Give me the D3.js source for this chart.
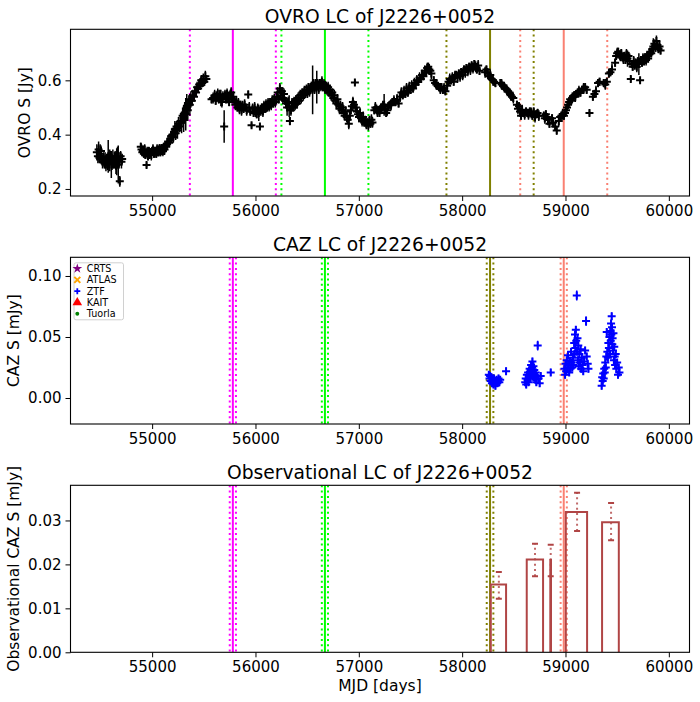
<!DOCTYPE html>
<html>
<head>
<meta charset="utf-8">
<script src="https://cdn.jsdelivr.net/npm/d3@7"></script>
<style>
  body { margin: 0; background: #fff; }
  text { font-family: "DejaVu Sans", sans-serif; fill: #000; }
</style>
</head>
<body>
<svg id="canvas"></svg>
<script>
// ---- data ----
let eventMjd = [55781, 56672, 58270, 58983];
let eventUncOvro = [416, 421, 422, 421];
let eventUncCaz = [30, 30, 32, 30];

let xTicks = [55000, 56000, 57000, 58000, 59000, 60000];
let ovroTicks = [0.2, 0.4, 0.6];
let cazTicks = [0.00, 0.05, 0.10];
let obsTicks = [0.00, 0.01, 0.02, 0.03];

// OVRO 15 GHz: [mjd, flux Jy, error]
let ovroData = [
  [54465,0.335,0.03],[54475,0.320,0.025],[54482,0.345,0.03],[54490,0.315,0.02],[54497,0.330,0.035],[54505,0.340,0.02],
  [54512,0.310,0.02],[54520,0.300,0.025],[54530,0.315,0.02],[54538,0.295,0.02],[54545,0.305,0.03],[54553,0.290,0.025],
  [54560,0.310,0.02],[54568,0.300,0.03],[54575,0.320,0.06],[54583,0.295,0.02],[54590,0.305,0.04],[54598,0.315,0.025],
  [54605,0.290,0.05],[54612,0.300,0.03],[54620,0.310,0.035],[54628,0.295,0.02],[54635,0.305,0.03],[54642,0.320,0.02],
  [54650,0.285,0.03],[54657,0.300,0.05],[54665,0.315,0.04],[54672,0.290,0.07],[54680,0.305,0.03],[54687,0.228,0.02],
  [54695,0.320,0.02],[54703,0.300,0.025],[54710,0.310,0.02],
  [54890,0.355,0.015],[54897,0.345,0.02],[54905,0.335,0.015],[54912,0.340,0.02],[54920,0.330,0.015],[54928,0.345,0.02],
  [54935,0.325,0.015],[54946,0.288,0.01],[54952,0.335,0.02],[54960,0.320,0.015],[54968,0.340,0.015],[54976,0.330,0.02],
  [54984,0.335,0.015],[54992,0.325,0.02],[55000,0.340,0.015],[55008,0.345,0.02],[55016,0.330,0.015],[55024,0.335,0.02],
  [55032,0.340,0.015],[55040,0.330,0.015],[55048,0.345,0.02],[55056,0.335,0.015],[55064,0.340,0.02],[55072,0.350,0.015],
  [55080,0.335,0.015],[55088,0.345,0.02],[55096,0.350,0.015],[55104,0.340,0.02],[55112,0.355,0.015],[55120,0.345,0.02],
  [55128,0.360,0.015],[55136,0.355,0.02],
  [55145,0.365,0.02],[55155,0.375,0.02],[55165,0.370,0.015],[55175,0.385,0.02],[55185,0.395,0.02],[55195,0.400,0.025],
  [55205,0.390,0.02],[55212,0.410,0.02],[55220,0.420,0.03],[55228,0.405,0.025],[55236,0.430,0.02],[55245,0.415,0.03],
  [55255,0.440,0.025],[55265,0.430,0.02],[55275,0.450,0.03],[55285,0.445,0.04],[55295,0.470,0.03],[55305,0.460,0.05],
  [55315,0.480,0.04],[55325,0.475,0.06],[55335,0.500,0.05],[55345,0.490,0.04],[55355,0.515,0.03],[55365,0.510,0.04],
  [55375,0.530,0.03],[55385,0.525,0.02],[55395,0.545,0.02],[55405,0.540,0.02],[55415,0.560,0.02],[55425,0.555,0.015],
  [55435,0.575,0.02],[55445,0.570,0.015],[55455,0.585,0.02],[55465,0.580,0.015],[55475,0.600,0.02],[55485,0.590,0.015],
  [55495,0.605,0.02],[55505,0.595,0.015],[55515,0.615,0.02],[55525,0.605,0.015],
  [55575,0.530,0.015],[55590,0.535,0.02],[55605,0.545,0.02],[55615,0.525,0.015],[55625,0.540,0.02],[55635,0.550,0.02],
  [55645,0.530,0.015],[55655,0.545,0.02],[55665,0.535,0.03],[55675,0.520,0.02],[55685,0.540,0.02],[55697,0.430,0.06],
  [55705,0.545,0.02],[55715,0.530,0.015],[55725,0.550,0.02],[55735,0.535,0.02],[55745,0.520,0.015],[55755,0.545,0.02],
  [55765,0.555,0.02],[55775,0.530,0.015],[55785,0.540,0.02],[55795,0.525,0.015],[55805,0.510,0.02],[55815,0.520,0.02],
  [55825,0.500,0.015],[55835,0.515,0.02],[55845,0.495,0.02],[55855,0.510,0.015],[55865,0.490,0.02],[55875,0.505,0.02],
  [55885,0.495,0.015],[55895,0.510,0.02],[55905,0.500,0.015],[55915,0.490,0.02],[55930,0.548,0.015],[55940,0.500,0.02],
  [55950,0.485,0.015],[55962,0.435,0.01],[55972,0.495,0.02],[55982,0.480,0.015],[55992,0.500,0.02],[56002,0.485,0.02],
  [56012,0.475,0.015],[56022,0.495,0.02],[56032,0.480,0.03],[56043,0.430,0.01],[56052,0.490,0.02],[56062,0.500,0.015],
  [56072,0.485,0.02],[56082,0.505,0.02],[56092,0.495,0.015],[56102,0.510,0.02],[56112,0.500,0.015],[56122,0.515,0.02],
  [56132,0.505,0.02],[56142,0.520,0.015],[56152,0.510,0.02],[56162,0.525,0.02],[56172,0.515,0.015],[56182,0.530,0.02],
  [56192,0.520,0.02],
  [56205,0.540,0.02],[56215,0.555,0.02],[56225,0.530,0.015],[56236,0.570,0.02],[56246,0.545,0.02],[56256,0.560,0.015],
  [56266,0.535,0.02],[56276,0.550,0.02],[56286,0.525,0.015],[56296,0.515,0.02],[56306,0.500,0.03],[56316,0.520,0.02],
  [56326,0.505,0.04],[56333,0.450,0.015],[56343,0.490,0.02],[56353,0.515,0.02],[56363,0.500,0.015],[56373,0.520,0.02],
  [56383,0.510,0.02],[56393,0.530,0.015],[56403,0.515,0.02],[56413,0.535,0.02],[56423,0.525,0.015],[56433,0.545,0.02],
  [56443,0.535,0.02],[56453,0.555,0.015],[56463,0.545,0.02],[56473,0.560,0.02],[56483,0.550,0.015],[56493,0.565,0.02],
  [56503,0.555,0.02],[56513,0.575,0.015],[56523,0.560,0.02],[56533,0.570,0.02],[56543,0.580,0.015],[56553,0.565,0.09],
  [56563,0.585,0.02],[56573,0.570,0.02],[56583,0.590,0.015],[56593,0.575,0.06],[56603,0.585,0.02],[56613,0.570,0.02],
  [56623,0.590,0.015],[56633,0.580,0.02],[56643,0.595,0.02],[56653,0.575,0.015],[56663,0.585,0.02],[56673,0.570,0.02],
  [56683,0.580,0.015],[56693,0.565,0.02],[56703,0.575,0.02],[56713,0.555,0.015],[56723,0.565,0.02],[56733,0.545,0.02],
  [56743,0.555,0.015],[56753,0.535,0.02],[56763,0.545,0.02],[56773,0.525,0.015],[56783,0.515,0.02],[56793,0.530,0.02],
  [56803,0.510,0.015],[56813,0.495,0.02],[56823,0.505,0.02],[56833,0.490,0.015],[56843,0.500,0.02],[56853,0.480,0.02],
  [56863,0.470,0.015],[56873,0.485,0.02],[56883,0.465,0.02],[56893,0.455,0.015],[56903,0.440,0.02],[56913,0.470,0.02],
  [56923,0.490,0.015],[56933,0.505,0.02],[56943,0.520,0.02],[56953,0.510,0.015],[56962,0.592,0.01],[56972,0.500,0.02],
  [56982,0.485,0.02],[56992,0.475,0.015],[57002,0.465,0.02],[57012,0.480,0.02],[57022,0.460,0.015],[57032,0.450,0.02],
  [57042,0.465,0.02],[57052,0.445,0.015],[57062,0.450,0.02],[57072,0.440,0.02],[57082,0.445,0.015],[57092,0.435,0.02],
  [57102,0.450,0.02],[57112,0.440,0.015],[57122,0.455,0.02],[57132,0.445,0.02],[57150,0.490,0.015],[57160,0.500,0.02],
  [57170,0.495,0.015],[57180,0.485,0.02],[57190,0.490,0.015],[57200,0.480,0.015],[57212,0.495,0.02],[57222,0.500,0.015],
  [57232,0.505,0.02],[57245,0.510,0.04],[57255,0.495,0.02],[57265,0.480,0.015],[57275,0.490,0.02],[57285,0.505,0.015],
  [57300,0.510,0.015],
  [57312,0.510,0.02],[57325,0.520,0.015],[57340,0.525,0.02],[57355,0.520,0.015],[57370,0.530,0.02],[57385,0.515,0.015],
  [57400,0.540,0.02],[57412,0.555,0.02],[57425,0.545,0.015],[57438,0.560,0.02],[57450,0.550,0.015],[57462,0.570,0.02],
  [57475,0.555,0.015],[57488,0.575,0.02],[57500,0.565,0.015],[57512,0.580,0.02],[57525,0.570,0.015],[57538,0.590,0.02],
  [57550,0.585,0.015],[57562,0.600,0.02],[57575,0.595,0.015],[57588,0.610,0.02],[57600,0.605,0.015],[57612,0.620,0.02],
  [57625,0.615,0.015],[57638,0.635,0.02],[57650,0.630,0.015],[57662,0.645,0.02],[57672,0.650,0.015],[57682,0.640,0.02],
  [57692,0.635,0.015],[57702,0.625,0.02],[57725,0.600,0.015],[57738,0.590,0.015],[57750,0.585,0.02],[57762,0.580,0.015],
  [57775,0.575,0.015],[57788,0.570,0.02],[57800,0.575,0.015],[57812,0.565,0.015],[57825,0.570,0.02],[57838,0.560,0.015],
  [57855,0.580,0.02],[57868,0.595,0.015],[57880,0.605,0.02],[57892,0.600,0.015],[57905,0.610,0.02],[57918,0.595,0.015],
  [57930,0.615,0.02],[57942,0.620,0.015],[57955,0.610,0.02],[57968,0.625,0.015],[57980,0.615,0.02],[57992,0.630,0.015],
  [58005,0.620,0.02],[58018,0.640,0.015],[58030,0.630,0.02],[58042,0.645,0.015],[58055,0.635,0.02],[58068,0.650,0.015],
  [58080,0.640,0.02],[58092,0.655,0.015],[58105,0.645,0.02],[58118,0.660,0.015],[58130,0.650,0.02],[58142,0.640,0.015],
  [58155,0.655,0.02],[58168,0.635,0.015],[58222,0.630,0.02],[58235,0.640,0.015],[58248,0.625,0.02],[58260,0.615,0.015],
  [58272,0.620,0.02],[58285,0.605,0.015],[58298,0.600,0.02],[58310,0.595,0.015],[58322,0.590,0.015],
  [58370,0.590,0.015],[58382,0.585,0.02],[58395,0.580,0.015],[58408,0.575,0.02],[58420,0.570,0.015],[58432,0.565,0.02],
  [58445,0.560,0.015],[58458,0.555,0.015],[58470,0.545,0.02],[58482,0.540,0.015],[58495,0.535,0.02],[58530,0.510,0.015],
  [58540,0.495,0.02],[58550,0.505,0.015],[58560,0.485,0.02],[58570,0.470,0.015],[58580,0.490,0.02],[58592,0.480,0.015],
  [58605,0.475,0.02],[58618,0.485,0.015],[58630,0.480,0.015],[58642,0.475,0.02],[58655,0.485,0.015],[58668,0.480,0.02],
  [58680,0.470,0.015],[58692,0.485,0.015],[58705,0.465,0.02],[58718,0.475,0.015],[58730,0.480,0.015],[58742,0.470,0.02],
  [58790,0.470,0.015],[58800,0.460,0.02],[58810,0.475,0.015],[58820,0.465,0.015],[58830,0.455,0.02],[58845,0.440,0.015],
  [58870,0.460,0.015],[58880,0.445,0.02],[58900,0.430,0.015],[58915,0.415,0.015],[58935,0.450,0.02],[58948,0.465,0.015],
  [58960,0.470,0.015],[58972,0.475,0.02],[58985,0.470,0.015],[58995,0.480,0.015],[59005,0.490,0.02],[59015,0.500,0.015],
  [59025,0.510,0.015],[59035,0.520,0.02],[59045,0.530,0.015],[59055,0.525,0.015],[59065,0.535,0.02],[59075,0.540,0.015],
  [59085,0.545,0.015],[59095,0.540,0.02],[59105,0.550,0.015],[59118,0.555,0.015],[59130,0.560,0.02],[59145,0.555,0.015],
  [59160,0.565,0.015],[59175,0.570,0.02],[59190,0.575,0.015],[59205,0.565,0.015],[59232,0.480,0.01],[59265,0.540,0.015],
  [59280,0.550,0.015],[59295,0.560,0.02],[59315,0.590,0.015],[59330,0.595,0.015],[59370,0.590,0.015],[59385,0.585,0.02],
  [59400,0.595,0.015],[59420,0.625,0.015],[59435,0.630,0.015],[59450,0.640,0.02],
  [59480,0.665,0.015],[59490,0.690,0.015],[59500,0.700,0.02],[59510,0.705,0.015],[59520,0.695,0.015],[59530,0.690,0.02],
  [59540,0.700,0.015],[59550,0.685,0.015],[59560,0.680,0.02],[59570,0.690,0.015],[59580,0.675,0.015],[59590,0.695,0.02],
  [59600,0.680,0.03],[59610,0.690,0.015],[59620,0.670,0.015],[59632,0.605,0.01],[59640,0.660,0.015],[59650,0.650,0.015],
  [59660,0.670,0.02],[59670,0.655,0.015],[59680,0.665,0.015],[59690,0.650,0.02],[59700,0.670,0.015],[59710,0.660,0.04],
  [59722,0.600,0.01],[59730,0.675,0.015],[59740,0.665,0.015],[59750,0.680,0.02],[59760,0.670,0.015],[59770,0.685,0.015],
  [59780,0.675,0.02],[59790,0.690,0.015],[59800,0.680,0.015],[59810,0.695,0.02],[59820,0.705,0.015],[59830,0.700,0.015],
  [59840,0.715,0.02],[59850,0.725,0.03],[59860,0.735,0.015],[59870,0.720,0.015],[59880,0.745,0.02],[59890,0.730,0.015],
  [59900,0.715,0.015],[59910,0.725,0.02],[59920,0.710,0.015]
];

// ZTF: [mjd, flux mJy, error]
let ztfData = [
  [58258,0.019,0.003],[58265,0.016,0.003],[58270,0.018,0.003],[58276,0.014,0.003],[58282,0.017,0.003],[58288,0.012,0.003],
  [58293,0.015,0.003],[58298,0.013,0.003],[58303,0.011,0.003],[58308,0.016,0.003],[58313,0.012,0.003],[58318,0.014,0.003],
  [58322,0.010,0.003],[58327,0.013,0.003],[58333,0.015,0.003],[58340,0.012,0.003],[58346,0.014,0.003],[58352,0.016,0.003],
  [58360,0.013,0.003],[58368,0.015,0.003],[58425,0.022,0.003],
  [58610,0.013,0.003],[58615,0.016,0.003],[58620,0.011,0.003],[58626,0.019,0.003],[58632,0.015,0.003],[58638,0.021,0.003],
  [58642,0.013,0.003],[58648,0.018,0.003],[58653,0.024,0.003],[58658,0.016,0.003],[58662,0.022,0.003],[58667,0.027,0.003],
  [58672,0.019,0.003],[58676,0.025,0.003],[58680,0.030,0.003],[58685,0.021,0.003],[58690,0.026,0.003],[58694,0.017,0.003],
  [58698,0.023,0.003],[58703,0.019,0.003],[58708,0.015,0.003],[58712,0.021,0.003],[58718,0.013,0.003],[58724,0.018,0.003],
  [58731,0.043,0.004],[58740,0.016,0.003],[58750,0.012,0.003],[58760,0.018,0.003],[58857,0.021,0.003],
  [58990,0.024,0.003],[58996,0.019,0.003],[59000,0.028,0.003],[59006,0.022,0.003],[59012,0.031,0.003],[59018,0.025,0.003],
  [59024,0.035,0.003],[59030,0.027,0.003],[59036,0.021,0.003],[59042,0.030,0.003],[59048,0.024,0.003],[59054,0.038,0.003],
  [59060,0.029,0.003],[59066,0.025,0.003],[59072,0.033,0.003],[59078,0.027,0.003],[59084,0.045,0.003],[59088,0.036,0.003],
  [59092,0.052,0.003],[59096,0.041,0.003],[59100,0.056,0.003],[59104,0.047,0.003],[59109,0.084,0.004],[59112,0.038,0.003],
  [59116,0.049,0.003],[59120,0.031,0.003],[59124,0.043,0.003],[59128,0.026,0.003],[59134,0.036,0.003],[59140,0.029,0.003],
  [59146,0.040,0.003],[59152,0.024,0.003],[59158,0.033,0.003],[59165,0.027,0.003],[59172,0.022,0.003],[59180,0.030,0.003],
  [59190,0.039,0.003],[59199,0.063,0.004],[59205,0.034,0.003],[59215,0.028,0.003],[59222,0.024,0.003],
  [59350,0.010,0.003],[59355,0.017,0.003],[59360,0.014,0.003],[59365,0.020,0.003],[59370,0.016,0.003],[59375,0.024,0.003],
  [59380,0.021,0.003],[59385,0.029,0.003],[59390,0.025,0.003],[59395,0.034,0.003],[59399,0.054,0.003],[59405,0.038,0.003],
  [59410,0.033,0.003],[59415,0.045,0.003],[59420,0.041,0.003],[59425,0.050,0.003],[59430,0.036,0.003],[59434,0.055,0.003],
  [59438,0.047,0.003],[59441,0.061,0.003],[59444,0.052,0.003],[59447,0.067,0.003],[59450,0.058,0.003],[59453,0.044,0.003],
  [59456,0.049,0.003],[59460,0.039,0.003],[59464,0.053,0.003],[59468,0.031,0.003],[59472,0.042,0.003],[59476,0.034,0.003],
  [59480,0.027,0.003],[59486,0.036,0.003],[59492,0.024,0.003],[59500,0.029,0.003],[59508,0.019,0.003],[59515,0.025,0.003],
  [59522,0.021,0.003]
];

// observational (binned) CAZ flux
let binStart = [58277, 58625, 58853, 59003, 59354];
let binEnd = [58425, 58783, 58860, 59209, 59516];
let binFlux = [0.0154, 0.0211, 0.0210, 0.0319, 0.0296];
let binErrMjd = [58355, 58705, 58857, 59112, 59441];
let binErrLow = [0.0122, 0.0173, 0.0173, 0.0276, 0.0255];
let binErrHigh = [0.0183, 0.0247, 0.0245, 0.0363, 0.0340];

let legendNames = ['CRTS', 'ATLAS', 'ZTF', 'KAIT', 'Tuorla'];

// ---- layout ----
let width = 700;
let height = 702;
let left = 70.5;
let right = 689.5;
let eventColors = ['#ff00ff', '#00ff00', '#808000', '#fa8072'];
let legendColors = ['purple', 'orange', 'blue', 'red', 'green'];
let binColor = '#b04545';

let canvas = d3.select('#canvas').attr('width', width).attr('height', height);

let xScale = d3.scaleLinear().domain([54210, 60200]).range([left, right]);

let panels = [
    { top: 29.3, bottom: 196, domain: [0.174, 0.788], ticks: ovroTicks, fmt: d3.format('.1f'),
      title: 'OVRO LC of J2226+0052', ylabel: 'OVRO S [Jy]', labelX: 24.5, unc: eventUncOvro },
    { top: 257.3, bottom: 424, domain: [-0.0213, 0.1153], ticks: cazTicks, fmt: d3.format('.2f'),
      title: 'CAZ LC of J2226+0052', ylabel: 'CAZ S [mJy]', labelX: 14, unc: eventUncCaz },
    { top: 485.3, bottom: 652.3, domain: [0, 0.038], ticks: obsTicks, fmt: d3.format('.2f'),
      title: 'Observational LC of J2226+0052', ylabel: 'Observational CAZ S [mJy]', labelX: 14, unc: eventUncCaz }
];

let plusPath = (s) => 'M' + (-s) + ',0H' + s + 'M0,' + (-s) + 'V' + s;
let xPath = (s) => 'M' + (-s) + ',' + (-s) + 'L' + s + ',' + s + 'M' + (-s) + ',' + s + 'L' + s + ',' + (-s);

let drawPanel = (p, i) => {
    p.yScale = d3.scaleLinear().domain(p.domain).range([p.bottom, p.top]);

    canvas.append('clipPath').attr('id', 'clip' + i)
          .append('rect')
          .attr('x', left).attr('y', p.top)
          .attr('width', right - left).attr('height', p.bottom - p.top);

    p.g = canvas.append('g').attr('clip-path', 'url(#clip' + i + ')');

    // event lines
    eventMjd.forEach((m, k) => {
        [m - p.unc[k], m + p.unc[k]].forEach((d) => {
            p.g.append('line')
               .attr('x1', xScale(d)).attr('x2', xScale(d))
               .attr('y1', p.top).attr('y2', p.bottom)
               .attr('stroke', eventColors[k])
               .attr('stroke-width', 2)
               .attr('stroke-dasharray', '2,3.3');
        });
        p.g.append('line')
           .attr('x1', xScale(m)).attr('x2', xScale(m))
           .attr('y1', p.top).attr('y2', p.bottom)
           .attr('stroke', eventColors[k])
           .attr('stroke-width', 2);
    });
}

let drawAxes = (p) => {
    let xAxis = d3.axisBottom(xScale).tickValues(xTicks).tickFormat(d3.format('d')).tickSize(5).tickPadding(4);
    let yAxis = d3.axisLeft(p.yScale).tickValues(p.ticks).tickFormat(p.fmt).tickSize(5).tickPadding(4);

    let gx = canvas.append('g').attr('transform', 'translate(0,' + p.bottom + ')').call(xAxis);
    let gy = canvas.append('g').attr('transform', 'translate(' + left + ',0)').call(yAxis);
    [gx, gy].forEach((g) => {
        g.select('.domain').remove();
        g.selectAll('line').attr('stroke', '#000').attr('stroke-width', 1);
        g.selectAll('text').style('font-size', '15px').style('font-family', '"DejaVu Sans", sans-serif');
    });
    gx.selectAll('text').attr('dy', null).attr('y', 20);

    canvas.append('rect')
          .attr('x', left).attr('y', p.top)
          .attr('width', right - left).attr('height', p.bottom - p.top)
          .attr('fill', 'none').attr('stroke', '#000').attr('stroke-width', 1.1);

    canvas.append('text')
          .attr('x', (left + right) / 2).attr('y', p.top - 6)
          .attr('text-anchor', 'middle')
          .style('font-size', '18.7px')
          .text(p.title);

    canvas.append('text')
          .attr('transform', 'translate(' + p.labelX + ',' + ((p.top + p.bottom) / 2) + ') rotate(-90)')
          .attr('text-anchor', 'middle')
          .attr('dominant-baseline', 'central')
          .style('font-size', '15.5px')
          .text(p.ylabel);
}

let drawErrPoints = (p, data, color) => {
    p.g.selectAll(null)
       .data(data)
       .enter()
       .append('line')
       .attr('x1', (d) => xScale(d[0])).attr('x2', (d) => xScale(d[0]))
       .attr('y1', (d) => p.yScale(d[1] - d[2])).attr('y2', (d) => p.yScale(d[1] + d[2]))
       .attr('stroke', color)
       .attr('stroke-width', 1.5);

    p.g.selectAll(null)
       .data(data)
       .enter()
       .append('path')
       .attr('d', plusPath(4))
       .attr('transform', (d) => 'translate(' + xScale(d[0]) + ',' + p.yScale(d[1]) + ')')
       .attr('stroke', color)
       .attr('stroke-width', 2)
       .attr('fill', 'none');
}

let drawBins = (p) => {
    binStart.forEach((s, k) => {
        let x0 = xScale(s);
        let x1 = xScale(binEnd[k]);
        let y0 = p.yScale(0);
        let y1 = p.yScale(binFlux[k]);
        p.g.append('path')
           .attr('d', 'M' + x0 + ',' + y0 + 'V' + y1 + 'H' + x1 + 'V' + y0)
           .attr('fill', 'none')
           .attr('stroke', binColor)
           .attr('stroke-width', 2);

        let ex = xScale(binErrMjd[k]);
        p.g.append('line')
           .attr('x1', ex).attr('x2', ex)
           .attr('y1', p.yScale(binErrLow[k])).attr('y2', p.yScale(binErrHigh[k]))
           .attr('stroke', binColor)
           .attr('stroke-opacity', 0.8)
           .attr('stroke-width', 2)
           .attr('stroke-dasharray', '2,3.3');
        [binErrLow[k], binErrHigh[k]].forEach((v) => {
            p.g.append('line')
               .attr('x1', ex - 3).attr('x2', ex + 3)
               .attr('y1', p.yScale(v)).attr('y2', p.yScale(v))
               .attr('stroke', binColor)
               .attr('stroke-width', 2);
        });
    });
}

let drawLegend = (p) => {
    let lx = left + 3.5;
    let ly = p.top + 5.5;
    let lg = canvas.append('g');
    lg.append('rect')
      .attr('x', lx).attr('y', ly)
      .attr('width', 49.5).attr('height', 57)
      .attr('rx', 2)
      .attr('fill', '#fff').attr('fill-opacity', 0.8)
      .attr('stroke', '#d0d0d0');

    legendNames.forEach((name, k) => {
        let cy = ly + 5.8 + k * 11.3;
        let cx = lx + 3.3;
        let sym;
        if (k === 0) {
            sym = lg.append('path').attr('d', d3.symbol(d3.symbolStar, 30)()).attr('fill', legendColors[k]);
        } else if (k === 1) {
            sym = lg.append('path').attr('d', xPath(3)).attr('stroke', legendColors[k]).attr('stroke-width', 2).attr('fill', 'none');
        } else if (k === 2) {
            sym = lg.append('path').attr('d', plusPath(3)).attr('stroke', legendColors[k]).attr('stroke-width', 1.8).attr('fill', 'none');
        } else if (k === 3) {
            sym = lg.append('path').attr('d', d3.symbol(d3.symbolTriangle, 40)()).attr('fill', legendColors[k]);
        } else {
            sym = lg.append('path').attr('d', d3.symbol(d3.symbolCircle, 12)()).attr('fill', legendColors[k]);
        }
        sym.attr('transform', 'translate(' + cx + ',' + cy + ')');

        lg.append('text')
          .attr('x', lx + 12.8).attr('y', cy)
          .attr('dominant-baseline', 'central')
          .style('font-size', '9.6px')
          .text(name);
    });
}

panels.forEach((p, i) => drawPanel(p, i));
drawErrPoints(panels[0], ovroData, '#000');
drawErrPoints(panels[1], ztfData, '#0000ff');
drawBins(panels[2]);
panels.forEach((p) => drawAxes(p));
drawLegend(panels[1]);

canvas.append('text')
      .attr('x', (left + right) / 2).attr('y', 691)
      .attr('text-anchor', 'middle')
      .style('font-size', '15.5px')
      .text('MJD [days]');
</script>
</body>
</html>
